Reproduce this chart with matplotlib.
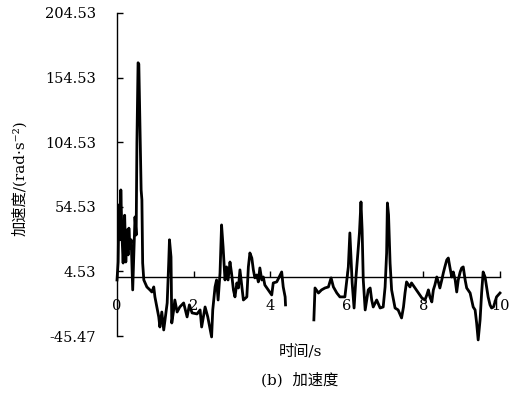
import matplotlib.pyplot as plt
import numpy as np

# Zeit (s) und Winkelbeschleunigung (rad/s^2); NaN = Luecke
t = [0.00, 0.03, 0.05, 0.08, 0.10, 0.13, 0.16, 0.20, 0.23, 0.26, 0.29, 0.31, 0.34,
     0.37, 0.41, 0.43, 0.47, 0.50, 0.52, 0.55, 0.57, 0.60, 0.63, 0.65, 0.67, 0.70,
     0.78, 0.86, 0.91, 0.96, 0.99, 1.09, 1.12, 1.17, 1.22, 1.26, 1.31, 1.35, 1.37,
     1.41, 1.43, 1.48, 1.51, 1.57, 1.64, 1.74, 1.83, 1.89, 1.96, 2.09, 2.17, 2.21,
     2.30, 2.37, 2.47, 2.50, 2.56, 2.60, 2.64, 2.69, 2.73, 2.77, 2.82, 2.86, 2.90,
     2.95, 2.99, 3.04, 3.08, 3.13, 3.17, 3.21, 3.26, 3.30, 3.39, 3.43, 3.47, 3.52,
     3.56, 3.60, 3.65, 3.69, 3.73, 3.78, 3.82, 3.86, 3.95, 4.04, 4.08, 4.17, 4.21,
     4.26, 4.30, 4.34, 4.39, 4.40,
     4.80,
     5.14, 5.17, 5.26, 5.34, 5.43, 5.52, 5.59, 5.65, 5.74, 5.82, 5.95, 6.00, 6.04,
     6.08, 6.11, 6.14, 6.19, 6.24, 6.28, 6.33, 6.37, 6.40, 6.43, 6.48, 6.52, 6.56,
     6.61, 6.65, 6.69, 6.78, 6.87, 6.95, 7.00, 7.04, 7.06, 7.09, 7.13, 7.17, 7.26,
     7.34, 7.43, 7.48, 7.52, 7.56, 7.65, 7.69, 7.78, 7.87, 7.96, 8.04, 8.09, 8.13,
     8.17, 8.22, 8.26, 8.30, 8.35, 8.39, 8.43, 8.48, 8.52, 8.56, 8.61, 8.65, 8.69,
     8.74, 8.78, 8.83, 8.87, 8.91, 8.96, 9.00, 9.04, 9.09, 9.13, 9.22, 9.26, 9.30,
     9.35, 9.39, 9.43, 9.48, 9.52, 9.56, 9.61, 9.65, 9.69, 9.74, 9.78, 9.83, 9.87,
     9.91, 10.00]

acc = [-2.1, 11.8, 56.0, 29.0, 67.6, 32.7, 11.0, 48.0, 11.8, 36.6, 17.3, 38.0, 22.7,
       29.0, -9.8, 9.5, 46.7, 32.7, 104.0, 166.0, 165.0, 114.0, 67.6, 60.0, 11.0, -2.1,
       -7.5, -9.8, -11.4, -7.5, -15.2, -30.7, -38.5, -26.9, -40.8, -31.5, -19.9, 11.0, 29.0,
       15.7, -35.4, -25.3, -17.6, -26.9, -23.0, -19.9, -30.7, -21.4, -27.6, -28.4, -25.3, -38.5,
       -23.0, -30.7, -46.2, -25.3, -7.5, -2.1, -17.6, 3.3, 40.5, 23.5, -2.1, 8.0, -2.1,
       11.8, 3.3, -9.8, -15.2, -4.4, -8.3, 5.7, -7.5, -17.6, -15.2, 8.0, 18.8, 14.9,
       5.7, -0.5, 1.8, -3.6, 7.2, -2.1, 0.2, -6.0, -9.8, -13.7, -4.4, -3.6, -1.3,
       1.8, 4.1, -7.5, -15.2, -21.4,
       np.nan,
       -33.0, -8.3, -12.2, -9.8, -8.3, -7.5, -0.5, -7.5, -12.2, -15.2, -15.2, -2.1, 8.0,
       34.3, 15.7, -4.4, -23.8, 0.2, 15.7, 34.3, 58.3, 36.6, -2.1, -25.3, -17.6, -9.8,
       -8.3, -17.6, -23.0, -17.6, -23.8, -23.0, -7.5, 18.8, 57.5, 48.3, 11.0, -9.8, -23.8,
       -25.3, -31.5, -23.0, -12.2, -3.6, -7.5, -4.4, -8.3, -12.2, -16.0, -17.6, -13.7, -9.8,
       -15.2, -19.1, -9.8, -6.0, 0.2, -3.6, -8.3, -2.1, 3.3, 8.0, 13.4, 14.9, 8.0,
       0.2, 4.1, -2.1, -11.4, -2.1, 4.1, 7.2, 8.0, -2.1, -8.3, -12.2, -17.6, -23.0,
       -25.3, -35.4, -48.5, -33.0, -12.2, 4.1, 0.2, -7.5, -15.2, -21.4, -23.8, -23.0, -19.1,
       -15.2, -12.2]

y_ticks = [-45.47, 4.53, 54.53, 104.53, 154.53, 204.53]
x_ticks = [0, 2, 4, 6, 8, 10]

# Latein in Serifenschrift, CJK-Zeichen fallen auf Noto zurueck
mixed = ['DejaVu Serif', 'Noto Sans CJK SC']

fig = plt.figure(figsize=(5.11, 4.01), dpi=100)
ax = fig.add_axes([117 / 511, 1 - 336 / 401, 383 / 511, 323 / 401])

ax.plot(t, acc, color='black', linewidth=2.0, clip_on=False)

ax.set_xlim(0, 10)
ax.set_ylim(y_ticks[0], y_ticks[-1])

ax.spines['top'].set_visible(False)
ax.spines['right'].set_visible(False)
ax.spines['bottom'].set_position(('data', 0))
for s in ('left', 'bottom'):
    ax.spines[s].set_linewidth(1.0)

ax.set_yticks(y_ticks)
ax.set_yticklabels(['%.2f' % v for v in y_ticks], family='DejaVu Serif', fontsize=10.5)
ax.set_xticks(x_ticks)
ax.set_xticklabels([str(v) for v in x_ticks], family='DejaVu Serif', fontsize=10.5)
ax.tick_params(axis='y', direction='in', length=4, width=1, pad=15)
ax.tick_params(axis='x', direction='in', length=4, width=1, pad=16)

ax.set_ylabel('加速度/(rad·s⁻²)', family=mixed, fontsize=11)
ax.yaxis.set_label_coords(-0.235, 0.49)
ax.set_xlabel('时间/s', family=mixed, fontsize=11)
ax.xaxis.set_label_coords(0.478, -0.025)

fig.text(300 / 511, 1 - 380 / 401, '(b)  加速度', family=mixed, fontsize=11,
         ha='center', va='center')

fig.savefig('out.png', dpi=100)
